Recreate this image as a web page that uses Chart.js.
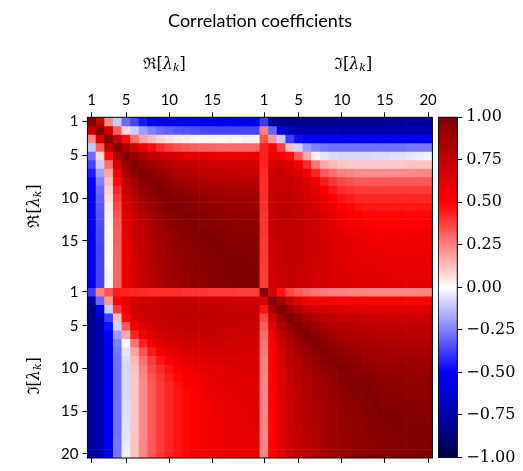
<!DOCTYPE html>
<html>
<head>
<meta charset="utf-8">
<title>Correlation coefficients</title>
<script src="https://cdn.jsdelivr.net/npm/chart.js@4.4.1/dist/chart.umd.min.js"></script>
<style>
  html, body { margin: 0; padding: 0; background: #fff; }
  #wrap { position: relative; width: 523px; height: 471px; }
  #mainBox { position: absolute; left: 0; top: 0; width: 523px; height: 471px; }
  #cbarBox { position: absolute; left: 438px; top: 0; width: 85px; height: 471px; }
</style>
</head>
<body>
<div id="wrap">
  <div id="mainBox"><canvas id="corrChart"></canvas></div>
  <div id="cbarBox"><canvas id="cbarChart"></canvas></div>
</div>
<script>
// === Data: correlation between Re[λk] and Im[λk], k = 1..20 ===
// Re-Re block, upper triangle (row k holds columns k..20)
const reRe = [
  [1.00, 0.72, 0.23, -0.11, -0.29, -0.37, -0.45, -0.51, -0.54, -0.55, -0.55, -0.56, -0.56, -0.56, -0.56, -0.56, -0.56, -0.56, -0.56, -0.56],
  [1.00, 0.68, 0.32, 0.08, -0.10, -0.19, -0.25, -0.29, -0.31, -0.33, -0.34, -0.35, -0.36, -0.36, -0.37, -0.37, -0.37, -0.37, -0.37],
  [1.00, 0.75, 0.48, 0.28, 0.18, 0.13, 0.09, 0.06, 0.04, 0.03, 0.02, 0.01, 0.00, 0.00, -0.01, -0.01, -0.02, -0.02],
  [1.00, 0.81, 0.68, 0.56, 0.48, 0.42, 0.38, 0.35, 0.33, 0.32, 0.31, 0.31, 0.30, 0.30, 0.30, 0.30, 0.30],
  [1.00, 0.91, 0.83, 0.76, 0.71, 0.67, 0.64, 0.62, 0.61, 0.60, 0.59, 0.59, 0.58, 0.58, 0.58, 0.58],
  [1.00, 0.93, 0.87, 0.82, 0.78, 0.75, 0.73, 0.71, 0.70, 0.69, 0.68, 0.68, 0.67, 0.67, 0.67],
  [1.00, 0.95, 0.90, 0.86, 0.82, 0.80, 0.78, 0.76, 0.75, 0.74, 0.73, 0.73, 0.72, 0.72],
  [1.00, 0.96, 0.92, 0.89, 0.86, 0.84, 0.82, 0.81, 0.80, 0.79, 0.78, 0.78, 0.77],
  [1.00, 0.97, 0.94, 0.91, 0.89, 0.87, 0.86, 0.85, 0.84, 0.83, 0.83, 0.82],
  [1.00, 0.97, 0.95, 0.93, 0.91, 0.90, 0.89, 0.88, 0.87, 0.87, 0.86],
  [1.00, 0.98, 0.96, 0.94, 0.93, 0.92, 0.91, 0.90, 0.90, 0.89],
  [1.00, 0.98, 0.97, 0.95, 0.94, 0.93, 0.93, 0.92, 0.92],
  [1.00, 0.98, 0.97, 0.96, 0.95, 0.95, 0.94, 0.94],
  [1.00, 0.99, 0.98, 0.97, 0.96, 0.96, 0.95],
  [1.00, 0.99, 0.98, 0.97, 0.97, 0.96],
  [1.00, 0.99, 0.98, 0.98, 0.97],
  [1.00, 0.99, 0.99, 0.98],
  [1.00, 0.99, 0.99],
  [1.00, 0.99],
  [1.00]
];

// Re-Im block, full (row = Re[λk], column = Im[λk])
const reIm = [
  [-0.38, -0.78, -0.82, -0.82, -0.82, -0.81, -0.81, -0.80, -0.80, -0.80, -0.79, -0.79, -0.79, -0.79, -0.79, -0.78, -0.78, -0.78, -0.78, -0.78],
  [0.25, -0.30, -0.58, -0.68, -0.72, -0.73, -0.73, -0.73, -0.73, -0.73, -0.73, -0.72, -0.72, -0.72, -0.72, -0.72, -0.72, -0.72, -0.72, -0.72],
  [0.34, 0.20, -0.10, -0.38, -0.47, -0.51, -0.53, -0.54, -0.54, -0.54, -0.54, -0.54, -0.54, -0.54, -0.54, -0.54, -0.54, -0.54, -0.54, -0.54],
  [0.44, 0.50, 0.38, 0.13, -0.09, -0.20, -0.25, -0.27, -0.28, -0.28, -0.28, -0.28, -0.28, -0.28, -0.28, -0.28, -0.28, -0.27, -0.27, -0.27],
  [0.44, 0.58, 0.56, 0.48, 0.33, 0.17, 0.02, -0.05, -0.07, -0.08, -0.08, -0.08, -0.08, -0.07, -0.07, -0.06, -0.06, -0.05, -0.04, -0.03],
  [0.43, 0.65, 0.68, 0.64, 0.56, 0.42, 0.27, 0.18, 0.14, 0.12, 0.11, 0.11, 0.11, 0.11, 0.11, 0.11, 0.11, 0.12, 0.12, 0.12],
  [0.42, 0.69, 0.71, 0.69, 0.64, 0.56, 0.43, 0.33, 0.28, 0.25, 0.24, 0.23, 0.23, 0.23, 0.23, 0.23, 0.23, 0.23, 0.24, 0.24],
  [0.41, 0.70, 0.72, 0.72, 0.69, 0.64, 0.55, 0.45, 0.39, 0.36, 0.34, 0.33, 0.33, 0.33, 0.33, 0.33, 0.33, 0.33, 0.33, 0.33],
  [0.41, 0.71, 0.73, 0.73, 0.71, 0.67, 0.61, 0.53, 0.46, 0.42, 0.40, 0.39, 0.39, 0.39, 0.39, 0.39, 0.39, 0.39, 0.39, 0.39],
  [0.41, 0.72, 0.74, 0.74, 0.72, 0.69, 0.64, 0.58, 0.52, 0.47, 0.45, 0.43, 0.43, 0.43, 0.43, 0.43, 0.43, 0.43, 0.43, 0.43],
  [0.41, 0.72, 0.75, 0.75, 0.73, 0.70, 0.66, 0.61, 0.56, 0.52, 0.49, 0.47, 0.46, 0.46, 0.46, 0.46, 0.46, 0.46, 0.46, 0.46],
  [0.40, 0.72, 0.75, 0.75, 0.74, 0.71, 0.68, 0.64, 0.59, 0.55, 0.52, 0.50, 0.49, 0.49, 0.49, 0.49, 0.49, 0.49, 0.49, 0.49],
  [0.40, 0.71, 0.75, 0.75, 0.74, 0.72, 0.69, 0.65, 0.62, 0.58, 0.55, 0.53, 0.52, 0.52, 0.52, 0.52, 0.52, 0.52, 0.52, 0.52],
  [0.40, 0.71, 0.74, 0.75, 0.74, 0.72, 0.69, 0.66, 0.63, 0.60, 0.58, 0.56, 0.55, 0.54, 0.54, 0.54, 0.54, 0.54, 0.54, 0.54],
  [0.39, 0.70, 0.74, 0.75, 0.74, 0.72, 0.70, 0.67, 0.64, 0.62, 0.60, 0.58, 0.57, 0.56, 0.56, 0.56, 0.56, 0.56, 0.56, 0.56],
  [0.39, 0.70, 0.73, 0.74, 0.73, 0.72, 0.70, 0.67, 0.65, 0.63, 0.61, 0.60, 0.58, 0.58, 0.57, 0.57, 0.57, 0.57, 0.57, 0.57],
  [0.39, 0.69, 0.73, 0.74, 0.73, 0.71, 0.69, 0.67, 0.65, 0.63, 0.62, 0.61, 0.60, 0.59, 0.58, 0.58, 0.58, 0.58, 0.58, 0.58],
  [0.38, 0.69, 0.72, 0.73, 0.72, 0.71, 0.69, 0.67, 0.65, 0.64, 0.62, 0.61, 0.60, 0.60, 0.59, 0.59, 0.59, 0.59, 0.59, 0.59],
  [0.38, 0.68, 0.72, 0.73, 0.72, 0.70, 0.69, 0.67, 0.65, 0.64, 0.63, 0.62, 0.61, 0.60, 0.60, 0.60, 0.59, 0.59, 0.59, 0.59],
  [0.38, 0.68, 0.72, 0.73, 0.72, 0.70, 0.68, 0.67, 0.65, 0.64, 0.63, 0.62, 0.61, 0.61, 0.60, 0.60, 0.60, 0.60, 0.60, 0.60]
];

// Im-Im block, upper triangle
const imIm = [
  [1.00, 0.64, 0.46, 0.36, 0.32, 0.29, 0.27, 0.26, 0.25, 0.25, 0.24, 0.24, 0.24, 0.24, 0.24, 0.24, 0.24, 0.24, 0.24, 0.24],
  [1.00, 0.87, 0.70, 0.60, 0.55, 0.53, 0.52, 0.51, 0.51, 0.50, 0.50, 0.50, 0.50, 0.50, 0.50, 0.50, 0.50, 0.50, 0.50],
  [1.00, 0.90, 0.80, 0.73, 0.69, 0.66, 0.65, 0.64, 0.63, 0.63, 0.62, 0.62, 0.62, 0.62, 0.62, 0.62, 0.62, 0.62],
  [1.00, 0.92, 0.85, 0.80, 0.77, 0.75, 0.73, 0.72, 0.71, 0.71, 0.70, 0.70, 0.70, 0.70, 0.70, 0.70, 0.70],
  [1.00, 0.94, 0.88, 0.84, 0.81, 0.79, 0.78, 0.77, 0.76, 0.75, 0.75, 0.75, 0.74, 0.74, 0.74, 0.74],
  [1.00, 0.94, 0.90, 0.86, 0.84, 0.82, 0.81, 0.80, 0.79, 0.78, 0.78, 0.78, 0.77, 0.77, 0.77],
  [1.00, 0.95, 0.91, 0.88, 0.86, 0.85, 0.84, 0.83, 0.82, 0.82, 0.81, 0.81, 0.81, 0.81],
  [1.00, 0.96, 0.93, 0.90, 0.88, 0.87, 0.86, 0.86, 0.85, 0.85, 0.85, 0.85, 0.85],
  [1.00, 0.96, 0.94, 0.92, 0.90, 0.89, 0.89, 0.88, 0.88, 0.88, 0.88, 0.88],
  [1.00, 0.97, 0.95, 0.93, 0.92, 0.91, 0.91, 0.91, 0.90, 0.90, 0.90],
  [1.00, 0.97, 0.96, 0.95, 0.94, 0.93, 0.93, 0.92, 0.92, 0.92],
  [1.00, 0.98, 0.96, 0.95, 0.95, 0.94, 0.94, 0.94, 0.93],
  [1.00, 0.98, 0.97, 0.96, 0.96, 0.95, 0.95, 0.95],
  [1.00, 0.98, 0.97, 0.97, 0.96, 0.96, 0.96],
  [1.00, 0.99, 0.98, 0.97, 0.97, 0.97],
  [1.00, 0.99, 0.98, 0.98, 0.98],
  [1.00, 0.99, 0.99, 0.98],
  [1.00, 0.99, 0.99],
  [1.00, 0.99],
  [1.00]
];

// tick positions (matrix index 1..40) and their labels
const tickPositions = [1, 5, 10, 15, 21, 25, 30, 35, 40];
const tickLabels = ['1', '5', '10', '15', '1', '5', '10', '15', '20'];
const cbarTicks = [1, 0.75, 0.5, 0.25, 0, -0.25, -0.5, -0.75, -1];

const N = 20;

// full symmetric 40x40 matrix from the three blocks
function buildMatrix() {
  const m = [];
  for (let i = 0; i < 2 * N; i++) m.push(new Array(2 * N).fill(0));
  for (let i = 0; i < N; i++) {
    for (let j = i; j < N; j++) {
      m[i][j] = m[j][i] = reRe[i][j - i];
      m[N + i][N + j] = m[N + j][N + i] = imIm[i][j - i];
    }
    for (let j = 0; j < N; j++) {
      m[i][N + j] = m[N + j][i] = reIm[i][j];
    }
  }
  return m;
}
const corr = buildMatrix();

// matplotlib "seismic" colormap
const seismicStops = [[0, 0, 0.3], [0, 0, 1], [1, 1, 1], [1, 0, 0], [0.5, 0, 0]];
function seismic(v) {
  let t = Math.min(1, Math.max(0, (v + 1) / 2)) * 4;
  let k = Math.min(3, Math.floor(t));
  let f = t - k;
  const a = seismicStops[k], b = seismicStops[k + 1];
  const c = a.map((x, i) => Math.round(255 * (x + (b[i] - x) * f)));
  return 'rgb(' + c[0] + ',' + c[1] + ',' + c[2] + ')';
}

// one floating-bar dataset per matrix row
const datasets = corr.map((row, r) => ({
  data: row.map((v, c) => ({ x: c + 1, y: [r + 0.5, r + 1.5] })),
  backgroundColor: row.map(v => seismic(v)),
  borderWidth: 0,
  barPercentage: 1,
  categoryPercentage: 1,
  grouped: false
}));

const tickFont = { family: 'Lato, "DejaVu Sans", sans-serif', size: 15 };
const axisGrid = {
  drawOnChartArea: false,
  drawTicks: true,
  tickLength: 5,
  tickWidth: 1,
  tickColor: '#000',
  offset: false
};

function setTicks(scale) {
  scale.ticks = tickPositions.map(v => ({ value: v }));
}

// draws e.g. ℜ[λ_k] centered at (0, 0)
function drawLambda(ctx, prefix) {
  const parts = [
    { t: prefix + '[', font: '16px "DejaVu Serif"', dy: 0 },
    { t: 'λ', font: 'italic 16px "DejaVu Serif"', dy: 0 },
    { t: 'k', font: 'italic 11px "DejaVu Serif"', dy: 3 },
    { t: ']', font: '16px "DejaVu Serif"', dy: 0 }
  ];
  let total = 0;
  parts.forEach(p => { ctx.font = p.font; p.w = ctx.measureText(p.t).width; total += p.w; });
  let x = -total / 2;
  ctx.textBaseline = 'middle';
  ctx.textAlign = 'left';
  parts.forEach(p => { ctx.font = p.font; ctx.fillText(p.t, x, p.dy); x += p.w; });
}

const labelsPlugin = {
  id: 'labelsPlugin',
  afterDraw(chart) {
    const ctx = chart.ctx;
    const a = chart.chartArea;
    const xs = chart.scales.x, ys = chart.scales.y;
    ctx.save();
    ctx.fillStyle = '#000';
    // frame
    ctx.strokeStyle = '#000';
    ctx.lineWidth = 1;
    ctx.strokeRect(a.left, a.top, a.right - a.left, a.bottom - a.top);
    // title
    ctx.font = '18px Lato, "DejaVu Sans", sans-serif';
    ctx.textAlign = 'center';
    ctx.textBaseline = 'middle';
    ctx.fillText('Correlation coefficients', 260, 21);
    // group labels on top
    [['ℜ', 9.4], ['ℑ', 31.3]].forEach(([p, v]) => {
      ctx.save();
      ctx.translate(xs.getPixelForValue(v), 65);
      drawLambda(ctx, p);
      ctx.restore();
    });
    // group labels on the left
    [['ℜ', 10.9], ['ℑ', 30.9]].forEach(([p, v]) => {
      ctx.save();
      ctx.translate(35, ys.getPixelForValue(v));
      ctx.rotate(-Math.PI / 2);
      drawLambda(ctx, p);
      ctx.restore();
    });
    ctx.restore();
  }
};

new Chart(document.getElementById('corrChart'), {
  type: 'bar',
  data: { datasets: datasets },
  options: {
    responsive: true,
    maintainAspectRatio: false,
    animation: false,
    layout: { padding: { left: 0, top: 0, right: 90.6, bottom: 3.7 } },
    plugins: { legend: { display: false }, tooltip: { enabled: false } },
    scales: {
      x: {
        type: 'linear', position: 'top', min: 0.5, max: 40.5, offset: false,
        afterBuildTicks: setTicks,
        afterFit: s => { s.height = 117.3; },
        grid: axisGrid,
        border: { display: false },
        ticks: { font: tickFont, color: '#000', padding: 3, maxRotation: 0, autoSkip: false,
                 callback: (v, i) => tickLabels[i] }
      },
      xb: {
        type: 'linear', position: 'bottom', min: 0.5, max: 40.5, offset: false,
        afterBuildTicks: setTicks,
        afterFit: s => { s.height = 5; },
        grid: axisGrid,
        border: { display: false },
        ticks: { display: false }
      },
      y: {
        type: 'linear', position: 'left', min: 0.5, max: 40.5, reverse: true,
        afterBuildTicks: setTicks,
        afterFit: s => { s.width = 87.4; },
        grid: axisGrid,
        border: { display: false },
        ticks: { font: tickFont, color: '#000', padding: 4, autoSkip: false,
                 callback: (v, i) => tickLabels[i] }
      }
    }
  },
  plugins: [labelsPlugin]
});

// === Colorbar ===
const cbarPlugin = {
  id: 'cbarPlugin',
  beforeDatasetsDraw(chart) {
    const ctx = chart.ctx;
    const a = chart.chartArea;
    const ys = chart.scales.y;
    const top = ys.getPixelForValue(1), bottom = ys.getPixelForValue(-1);
    const grad = ctx.createLinearGradient(0, bottom, 0, top);
    seismicStops.forEach((c, i) => {
      grad.addColorStop(i / 4, 'rgb(' + c.map(x => Math.round(x * 255)).join(',') + ')');
    });
    ctx.save();
    ctx.fillStyle = grad;
    ctx.fillRect(a.left, top, a.right - a.left, bottom - top);
    ctx.strokeStyle = '#000';
    ctx.lineWidth = 1;
    ctx.strokeRect(a.left, top, a.right - a.left, bottom - top);
    ctx.restore();
  }
};

new Chart(document.getElementById('cbarChart'), {
  type: 'scatter',
  data: { datasets: [] },
  options: {
    responsive: true,
    maintainAspectRatio: false,
    animation: false,
    layout: { padding: { left: 0.3, top: 117.3, right: 0, bottom: 8.3 } },
    plugins: { legend: { display: false }, tooltip: { enabled: false } },
    scales: {
      x: { display: false, min: 0, max: 1 },
      y: {
        position: 'right', min: -1, max: 1,
        afterBuildTicks: s => { s.ticks = cbarTicks.map(v => ({ value: v })); },
        afterFit: s => { s.width = 65.7; },
        grid: { drawOnChartArea: false, drawTicks: true, tickLength: 5, tickColor: '#000', tickWidth: 1 },
        border: { display: false },
        ticks: {
          font: { family: '"DejaVu Serif", serif', size: 16 }, color: '#000', padding: 4,
          callback: v => (v < 0 ? '\u2212' : '') + Math.abs(v).toFixed(2)
        }
      }
    }
  },
  plugins: [cbarPlugin]
});
</script>
</body>
</html>
